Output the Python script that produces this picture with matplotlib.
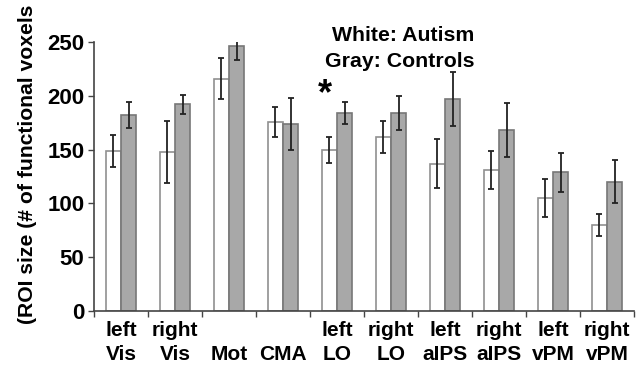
import matplotlib
matplotlib.use("Agg")
import matplotlib.pyplot as plt
import numpy as np

# ROI names (two-line tick labels)
rois = ["left\nVis", "right\nVis", "\nMot", "\nCMA", "left\nLO", "right\nLO",
        "left\naIPS", "right\naIPS", "left\nvPM", "right\nvPM"]

# autism (white) and controls (gray), mean and error
autism = [149, 148, 216, 176, 150, 162, 137, 131, 105, 80]
autism_err = [15, 29, 19, 14, 12, 15, 23, 18, 18, 10]
controls = [182, 192, 246, 174, 184, 184, 197, 168, 129, 120]
controls_err = [12, 9, 13, 24, 10, 16, 25, 25, 18, 20]

plt.rcParams['font.family'] = ['Liberation Sans', 'DejaVu Sans']
plt.rcParams['font.weight'] = 'bold'

fig = plt.figure(figsize=(6.37, 3.67), dpi=100)
ax = fig.add_axes([94/637, 1-311/367, (634-94)/637, (311-42)/367])

x = np.arange(len(rois))
w = 0.285
ax.bar(x - w/2, autism, w, color='white', edgecolor='#909090', linewidth=1.2,
       yerr=autism_err, capsize=2.5, error_kw=dict(ecolor='#222222', elinewidth=1.3, capthick=1.3))
ax.bar(x + w/2, controls, w, color='#a8a8a8', edgecolor='#777777', linewidth=1.2,
       yerr=controls_err, capsize=2.5, error_kw=dict(ecolor='#222222', elinewidth=1.3, capthick=1.3))

ax.set_xlim(-0.5, len(rois) - 0.5)
ax.set_ylim(0, 250)
ax.set_yticks([0, 50, 100, 150, 200, 250])
ax.tick_params(axis='y', labelsize=16, length=4, width=1, color='#444444', pad=3)
ax.set_xticks(x)
ax.set_xticklabels(rois, fontsize=15, fontweight='bold', linespacing=1.35)
ax.tick_params(axis='x', length=0, pad=7)
ax.set_xticks(np.arange(-0.5, len(rois)), minor=True)
ax.tick_params(axis='x', which='minor', length=4, width=1, color='#444444')

for s in ['top', 'right']:
    ax.spines[s].set_visible(False)
for s in ['left', 'bottom']:
    ax.spines[s].set_color('#444444')
    ax.spines[s].set_linewidth(1.2)

ax.text(5.22, 256, "White: Autism", ha='center', va='center', fontsize=15.3, fontweight='bold', clip_on=False)
ax.text(5.17, 232, "Gray: Controls", ha='center', va='center', fontsize=15.3, fontweight='bold', clip_on=False)
ax.text(3.78, 201, "*", ha='center', va='center', fontsize=26, fontweight='bold')

fig.text(28/637, 1-324/367, "(ROI size (# of functional voxels", rotation=90,
         ha='center', va='bottom', fontsize=15.2, fontweight='bold')

fig.savefig("out.png", dpi=100)
